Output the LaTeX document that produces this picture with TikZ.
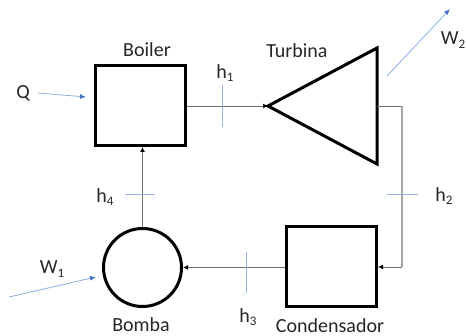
\documentclass[tikz,border=0pt]{standalone}
\usepackage{fontspec}
\setmainfont{Carlito}
\usetikzlibrary{arrows.meta}
\definecolor{tickblue}{RGB}{150,180,225}
\definecolor{arrowblue}{RGB}{68,114,196}
\definecolor{flowgray}{RGB}{110,110,110}
\newcommand{\lowsub}[1]{\raisebox{-0.35ex}{\fontsize{13}{13}\selectfont #1}}
\tikzset{
  unitbox/.style={draw=black,line width=3pt,minimum width=90pt,minimum height=80pt,inner sep=0pt,fill=white},
  unitcircle/.style={draw=black,line width=3pt,circle,minimum size=78pt,inner sep=0pt},
  flow/.style={draw=flowgray,line width=0.9pt,-{Latex[black,length=5pt,width=5pt]}},
  plainflow/.style={draw=flowgray,line width=0.9pt},
  sideflow/.style={draw=black!35,line width=1.2pt},
  tick/.style={draw=tickblue,line width=0.8pt},
  energy/.style={draw=tickblue,line width=0.9pt,-{Latex[arrowblue,length=6pt,width=5pt]}},
  lbl/.style={text=black!85,font=\fontsize{20}{22}\selectfont,inner sep=0pt}
}
\begin{document}
\begin{tikzpicture}[x=1pt,y=-1pt]
\useasboundingbox (0,0) rectangle (466,336);
\node[unitbox] (boiler) at (140.5,105.5) {};
\node[unitbox] (cond) at (331.5,266.5) {};
\node[unitcircle] (pump) at (142.5,267.5) {};
\coordinate (tipT) at (268,106);
\coordinate (topT) at (377,48);
\coordinate (botT) at (377,164);
\coordinate (outT) at (377,106);
\coordinate (cornerA) at (402,106);
\coordinate (cornerB) at (402,267);
\coordinate (condIn) at (378,267);
\draw[black,line width=3pt,line join=miter] (tipT) -- (topT) -- (botT) -- cycle;
\draw[flow] (boiler.east |- tipT) -- (tipT);
\draw[plainflow] (outT) -- (cornerA);
\draw[sideflow] (cornerA) -- (cornerB);
\draw[flow] (cornerB) -- (condIn);
\draw[flow] (cond.west |- pump) -- (pump.east);
\draw[flow] (pump.north) -- (boiler.south -| pump);
% ticks
\coordinate (t1a) at (222,85); \coordinate (t1b) at (222,127);
\coordinate (t2a) at (387,194); \coordinate (t2b) at (418,194);
\coordinate (t3a) at (246,252); \coordinate (t3b) at (246,293);
\coordinate (t4a) at (125,194); \coordinate (t4b) at (155,194);
\draw[tick] (t1a) -- (t1b);
\draw[tick] (t2a) -- (t2b);
\draw[tick] (t3a) -- (t3b);
\draw[tick] (t4a) -- (t4b);
% energy arrows
\coordinate (qa) at (38,93); \coordinate (qb) at (86,97);
\coordinate (w1a) at (9,297); \coordinate (w1b) at (96,277);
\coordinate (w2a) at (387,76); \coordinate (w2b) at (450,9);
\draw[energy] (qa) -- (qb);
\draw[energy] (w1a) -- (w1b);
\draw[energy] (w2a) -- (w2b);
% labels
\node[lbl] (lboiler) at (147,50) {Boiler};
\node[lbl] (lturb) at (297,51) {Turbina};
\node[lbl] (lcond) at (330,325.5) {Condensador};
\node[lbl] (lbomba) at (141,325) {Bomba};
\node[lbl] (lq) at (23,93) {Q};
\node[lbl] (lw1) at (52,269) {W\lowsub{1}};
\node[lbl] (lw2) at (453,40) {W\lowsub{2}};
\node[lbl] (lh1) at (225,73) {h\lowsub{1}};
\node[lbl] (lh2) at (444,196) {h\lowsub{2}};
\node[lbl] (lh3) at (248,317) {h\lowsub{3}};
\node[lbl] (lh4) at (105,197) {h\lowsub{4}};
\end{tikzpicture}
\end{document}
